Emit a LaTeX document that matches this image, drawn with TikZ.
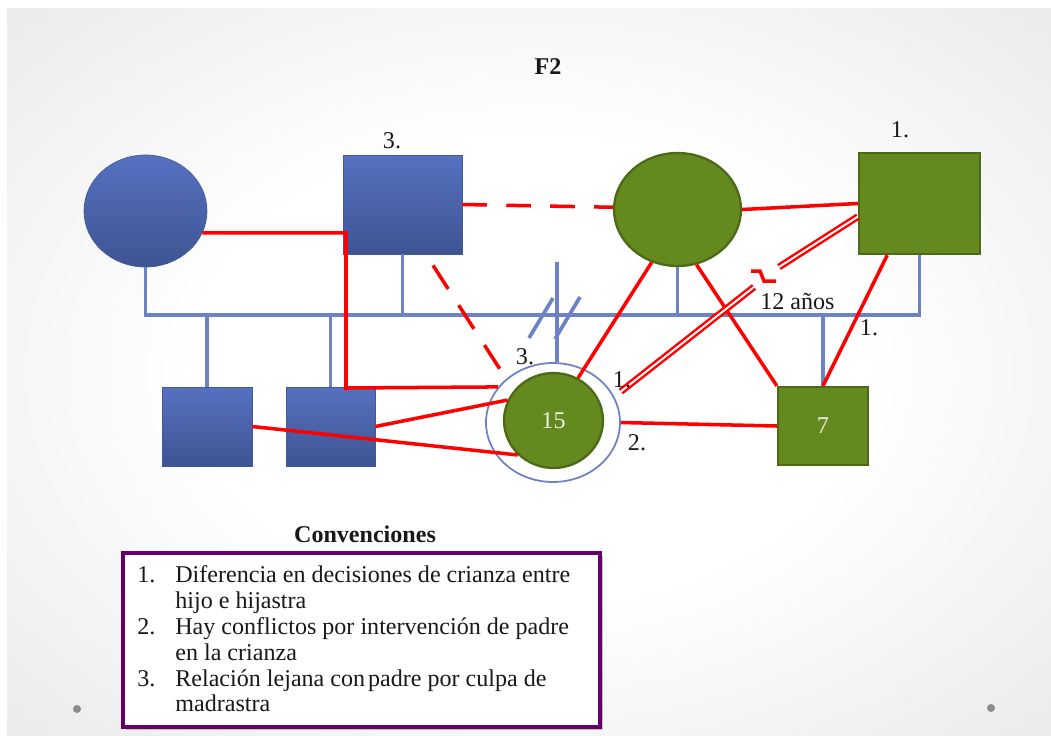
\documentclass[tikz,border=0pt]{standalone}
\usepackage{fontspec}
\setmainfont{Liberation Serif}
\usetikzlibrary{shapes.geometric,calc}
\definecolor{blueT}{HTML}{5571C0}
\definecolor{blueB}{HTML}{3E5492}
\definecolor{blueD}{HTML}{41589A}
\definecolor{famblue}{HTML}{6C82C4}
\definecolor{greenF}{HTML}{64891F}
\definecolor{greenD}{HTML}{4C6A16}
\definecolor{numcol}{HTML}{EAF1DD}
\definecolor{legpurple}{HTML}{660066}
\pgfdeclareradialshading{slidebg}{\pgfpoint{0bp}{0bp}}{color(0bp)=(white); color(16bp)=(white); color(50bp)=(black!14); color(72bp)=(black!20)}
\tikzset{
  bluest/.style={rectangle, top color=blueT, bottom color=blueB, draw=blueD, line width=0.4pt, inner sep=0pt},
  bluell/.style={ellipse, top color=blueT, bottom color=blueB, draw=blueD, line width=0.4pt, inner sep=0pt},
  greenst/.style={fill=greenF, draw=greenD, line width=1.3pt, inner sep=0pt},
  ringst/.style={ellipse, draw=famblue, line width=1pt, fill=white, inner sep=0pt},
  fam/.style={draw=famblue, line width=2.1pt},
  rel/.style={draw=red, line width=2pt},
  reldash/.style={rel, dash pattern=on 14pt off 11pt},
  dbl/.style={draw=red, double=white, double distance=1.1pt, line width=1.4pt},
  lbl/.style={font=\fontsize{13.7}{15}\selectfont, inner sep=0pt, text=black!90},
  blbl/.style={font=\fontsize{13.7}{15}\selectfont\bfseries, inner sep=0pt, text=black!90},
  numtxt/.style={font=\fontsize{13.7}{15}\selectfont, text=numcol}
}
\begin{document}
\begin{tikzpicture}[x=0.02cm,y=-0.02cm]
\useasboundingbox (0,0) rectangle (1051,735);
\fill[white] (0,0) rectangle (1051,735);
\shade[shading=slidebg] (7,8) rectangle (1051,735);
\fill[black!45] (77,709) circle[radius=0.08cm];
\fill[black!45] (991,708) circle[radius=0.08cm];

% title
\node[blbl] (title) at (548,67) {F2};

% persons
\node[bluell, minimum width=2.46cm, minimum height=2.24cm] (bc) at (145.5,211) {};
\node[bluest, minimum width=2.38cm, minimum height=1.98cm] (sq3) at (402.5,204.5) {};
\node[ellipse, greenst, minimum width=2.54cm, minimum height=2.26cm] (gc) at (677.5,209.5) {};
\node[rectangle, greenst, minimum width=2.42cm, minimum height=2.02cm] (gs) at (919.5,203.5) {};
\node[bluest, minimum width=1.8cm, minimum height=1.58cm] (bs1) at (207,426.5) {};
\node[bluest, minimum width=1.78cm, minimum height=1.58cm] (bs2) at (330.5,426.5) {};
\node[ringst, minimum width=2.68cm, minimum height=2.38cm] (ring) at (553,422.5) {};
\node[ellipse, greenst, numtxt, minimum width=1.98cm, minimum height=1.9cm] (girl) at (553.5,420.5) {15};
\node[rectangle, greenst, numtxt, minimum width=1.8cm, minimum height=1.56cm] (boy) at (823,426) {7};

% family lines
\coordinate (hL) at (145.5,315);
\coordinate (hR) at (919.5,315);
\coordinate (gtop) at (557,262);
\draw[fam] (bc.south) -- (hL) -- (hR) -- (gs.south);
\draw[fam] (sq3.south) -- (sq3.south |- hL);
\draw[fam] (gc.south) -- (gc.south |- hL);
\draw[fam] (bs1.north) -- (bs1.north |- hL);
\draw[fam] (bs2.north) -- (bs2.north |- hL);
\draw[fam] (boy.north) -- (boy.north |- hL);
\draw[fam] (gtop) -- (gtop |- ring.north);
\draw[fam] (529,338) -- (553,298);
\draw[fam] (555,339) -- (580,297);

% relations
\draw[rel] (bc.-21) -| (346,388) -- (ring.147);
\draw[reldash] (sq3.east) -- (gc.178);
\draw[reldash, dash pattern=on 16pt off 11pt] ($(sq3.south)+(30.5,11)$) -- (ring.137);
\draw[rel] (bs1.east) -- (girl.224);
\draw[rel] (bs2.east) -- (girl.156);
\draw[rel] (girl.60) -- (gc.244);
\draw[rel] (ring.east) -- (boy.west);
\draw[rel] (gc.east) -- (gs.west);
\draw[rel] (gc.-71) -- (boy.north west);
\draw[rel] (gs.238) -- (boy.north);
\coordinate (brk1) at (754,287);
\coordinate (brk2) at (779,267);
\draw[dbl] ($(ring.east)+(0,-31)$) -- (brk1);
\draw[dbl] (brk2) -- (gs.192);
\draw[draw=red, line width=2pt] (751,271) -- (760,271) -- (764,281) -- (776,281);

% labels
\node[lbl] (l3top) at (392,141) {3.};
\node[lbl] (l1top) at (900,130) {1.};
\node[lbl] (l3) at (525,357) {3.};
\node[lbl] (l1) at (622,380) {1.};
\node[lbl] (l2) at (637,443) {2.};
\node[lbl, anchor=west] (l12) at (760,301) {12 años};
\node[lbl] (l1r) at (869,328) {1.};

% legend
\node[blbl, anchor=base] (conv) at (365,542) {Convenciones};
\fill[black!25] (126,556) rectangle (603,730);
\draw[draw=legpurple, line width=2.4pt, fill=white] (123,553) rectangle (600,727);
\node[lbl, anchor=base west] (n1) at (137,582) {1.};
\node[lbl, anchor=base west] (t1) at (175,582) {Diferencia en decisiones de crianza entre};
\node[lbl, anchor=base west] (t1b) at (175,608) {hijo e hijastra};
\node[lbl, anchor=base west] (n2) at (137,634) {2.};
\node[lbl, anchor=base west] (t2) at (175,634) {Hay conflictos por intervención de padre};
\node[lbl, anchor=base west] (t2b) at (175,660) {en la crianza};
\node[lbl, anchor=base west] (n3) at (137,686) {3.};
\node[lbl, anchor=base west] (t3) at (175,686) {Relación lejana con\hspace{0.12em}padre por culpa de};
\node[lbl, anchor=base west] (t3b) at (175,711) {madrastra};
\end{tikzpicture}
\end{document}
